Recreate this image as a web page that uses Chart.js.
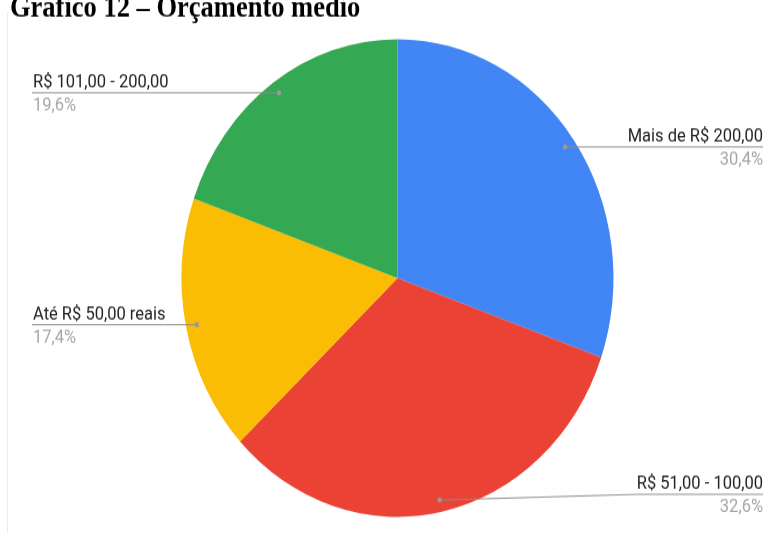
<!DOCTYPE html>
<html lang="pt-BR">
<head>
  <meta charset="UTF-8" />
  <title>Orçamento médio</title>
  <script src="https://cdn.jsdelivr.net/npm/chart.js"></script>
  <style>
    html, body { margin: 0; padding: 0; background: #fff; }
    /* the chart is rendered at 773x482 and stretched to the 533px page height */
    #chart { display: block; width: 773px; height: 533px; }
  </style>
</head>
<body>
<canvas id="chart" width="773" height="482" style="width:773px;height:533px"></canvas>
<script>
  const title = 'Gráfico 12 – Orçamento médio';
  const categories = ['Mais de R$ 200,00', 'R$ 51,00 - 100,00', 'Até R$ 50,00 reais', 'R$ 101,00 - 200,00'];
  const shares = [30.4, 32.6, 17.4, 19.6];
  const colors = ['#4285f4', '#ea4335', '#fbbc04', '#34a853'];

  // title, frame edge and leader-line labels
  const sideLabels = {
    id: 'sideLabels',
    afterDraw(chart) {
      const ctx = chart.ctx;
      const W = chart.width, H = chart.height;
      ctx.save();

      ctx.strokeStyle = '#ececec';
      ctx.lineWidth = 1;
      ctx.beginPath();
      ctx.moveTo(7.5, 11);
      ctx.lineTo(7.5, H);
      ctx.stroke();

      ctx.fillStyle = '#000';
      ctx.font = 'bold 26.5px "Liberation Serif", "Times New Roman", serif';
      ctx.textBaseline = 'alphabetic';
      ctx.textAlign = 'left';
      ctx.fillText(title, 10, 14.5);

      const meta = chart.getDatasetMeta(0);
      ctx.font = '16.5px Roboto, Arial, sans-serif';
      meta.data.forEach((arc, i) => {
        const mid = (arc.startAngle + arc.endAngle) / 2;
        const r = arc.outerRadius * 0.95;
        const dx = arc.x + Math.cos(mid) * r;
        const dy = arc.y + Math.sin(mid) * r;
        const lineY = Math.min(dy, H - 35);
        const right = dx > arc.x;
        const name = categories[i];
        const pct = shares[i].toFixed(1).replace('.', ',') + '%';
        const tw = ctx.measureText(name).width;

        ctx.strokeStyle = '#8c8c8c';
        ctx.lineWidth = 1;
        ctx.beginPath();
        if (right) {
          const tx = W - 10;
          ctx.moveTo(tx, lineY);
          ctx.lineTo(tx - tw, lineY);
          ctx.lineTo(dx, dy);
        } else {
          const tx = 32;
          ctx.moveTo(tx, lineY);
          ctx.lineTo(tx + tw, lineY);
          ctx.lineTo(dx, dy);
        }
        ctx.stroke();

        ctx.fillStyle = '#999';
        ctx.beginPath();
        ctx.arc(dx, dy, 2.3, 0, Math.PI * 2);
        ctx.fill();

        ctx.textAlign = right ? 'right' : 'left';
        const x = right ? W - 10 : 33;
        ctx.fillStyle = '#222';
        ctx.fillText(name, x, lineY - 5);
        ctx.fillStyle = '#a6a6a6';
        ctx.fillText(pct, x, lineY + 16);
      });
      ctx.restore();
    }
  };

  new Chart(document.getElementById('chart'), {
    type: 'pie',
    data: {
      labels: categories,
      datasets: [{
        data: shares,
        backgroundColor: colors,
        borderWidth: 0
      }]
    },
    options: {
      responsive: false,
      animation: false,
      layout: { padding: { left: 181.5, right: 159.5, top: 35.4, bottom: 14.6 } },
      plugins: {
        legend: { display: false },
        tooltip: { enabled: false }
      }
    },
    plugins: [sideLabels]
  });
</script>
</body>
</html>
